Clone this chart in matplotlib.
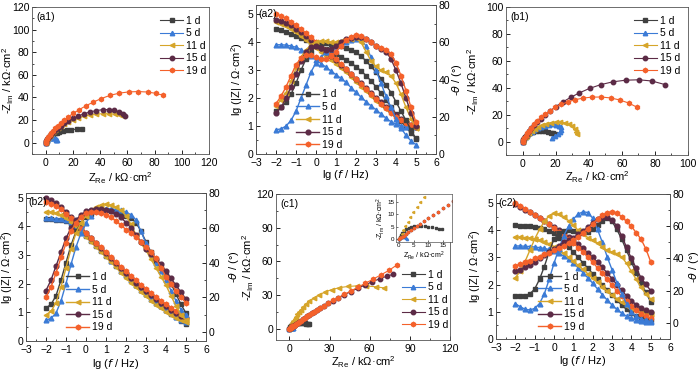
import matplotlib.pyplot as plt
from matplotlib.ticker import MultipleLocator, AutoMinorLocator

plt.rcParams['font.family'] = ['Liberation Sans', 'DejaVu Sans']
plt.rcParams['mathtext.default'] = 'regular'
plt.rcParams['font.size'] = 7.5

days = ['1 d', '5 d', '11 d', '15 d', '19 d']
colors = ['#404040', '#3b7bd6', '#d6a52a', '#5c2b46', '#f4612b']
markers = ['s', '^', '<', 'o', 'h']

# frequency grid of the Bode plots, lg(f / Hz)
lgf = [-2, -1.75, -1.5, -1.25, -1, -0.75, -0.5, -0.25, 0, 0.25, 0.5, 0.75, 1, 1.25,
       1.5, 1.75, 2, 2.25, 2.5, 2.75, 3, 3.25, 3.5, 3.75, 4, 4.25, 4.5, 4.75, 5]

# ---- (a1) Nyquist, kOhm cm2
a1_zre = [
    [0, 0.3, 0.7, 1.2, 1.8, 2.5, 3.3, 4.2, 5.3, 6.6, 8, 10, 12.5, 15.5, 19, 23, 27],
    [0, 0.5, 1.2, 2, 3, 4.2, 5.5, 6.5, 7.3, 7.8, 8],
    [0, 0.5, 1.2, 2, 3, 4.2, 5.6, 7.2, 9, 11.2, 13.8, 16.8, 20.2, 24, 28.2, 32.6, 37.2, 41.8, 46.4, 50.8, 54.4, 57],
    [0, 0.5, 1.2, 2, 3, 4.2, 5.6, 7.2, 9, 11.2, 13.8, 16.8, 20.2, 24, 28.2, 32.6, 37.2, 41.8, 46.2, 50.2, 53.8, 56.6, 58],
    [0, 0.5, 1.2, 2, 3, 4.2, 5.6, 7.2, 9, 11.2, 13.8, 16.8, 20.4, 24.6, 29.4, 34.8, 40.8, 47.2, 54, 61, 68, 75, 81, 86],
]
a1_zim = [
    [0, 0.8, 1.7, 2.7, 3.7, 4.7, 5.6, 6.5, 7.4, 8.2, 8.9, 9.7, 10.4, 11, 11.5, 12, 12.3],
    [0, 0.9, 1.9, 2.9, 3.8, 4.4, 4.5, 4, 3.3, 2.6, 2],
    [0, 1.3, 2.9, 4.5, 6.1, 7.8, 9.5, 11.2, 12.9, 14.7, 16.6, 18.5, 20.3, 22, 23.5, 24.6, 25.3, 25.6, 25.6, 25.2, 24.6, 23.8],
    [0, 1.3, 2.9, 4.5, 6.2, 7.9, 9.7, 11.5, 13.3, 15.2, 17.3, 19.5, 21.6, 23.6, 25.6, 27.2, 28.4, 29.2, 29.3, 28.7, 27.5, 25.8, 23.8],
    [0, 1.4, 3, 4.8, 6.6, 8.6, 10.6, 12.8, 15, 17.5, 20.2, 23, 26, 29.2, 32.5, 35.8, 39, 41.8, 43.8, 44.9, 45.2, 44.8, 43.6, 42],
]

# ---- (b1) Nyquist
b1_zre = [
    [0, 0.3, 0.8, 1.5, 2.4, 3.5, 4.8, 6.3, 8, 9.8, 11.7, 13.6, 15.4, 17, 18.3, 19.4],
    [0, 0.4, 1, 1.8, 2.8, 4, 5.5, 7.2, 9.2, 11.4, 13.8, 16.2, 18.5, 20.5, 22, 23, 23.3, 22.8, 21.5, 19.8, 18],
    [0, 0.4, 1, 1.8, 2.8, 4, 5.5, 7.3, 9.4, 11.8, 14.4, 17.2, 20, 22.8, 25.5, 27.9, 30, 31.6, 32.6, 33.1],
    [0, 0.4, 1, 1.8, 2.8, 4, 5.4, 7, 8.9, 11.1, 13.7, 16.7, 20.2, 24.3, 29, 34.4, 40.5, 47.3, 54.6, 62.3, 70.2, 78.2, 86.2],
    [0, 0.4, 1, 1.8, 2.8, 4, 5.4, 7, 8.9, 11.1, 13.7, 16.6, 19.8, 23.4, 27.4, 31.8, 36.6, 41.8, 47.4, 53.4, 59, 64.4, 69],
]
b1_zim = [
    [0, 1, 2.1, 3.2, 4.3, 5.4, 6.4, 7.2, 7.8, 8.1, 8.1, 7.8, 7.2, 6.6, 6, 5.4],
    [0, 1.1, 2.3, 3.5, 4.8, 6.1, 7.4, 8.6, 9.8, 10.9, 11.8, 12.5, 12.8, 12.6, 11.8, 10.5, 8.8, 7, 5.3, 4, 3],
    [0, 1.1, 2.4, 3.7, 5.1, 6.5, 8, 9.5, 10.9, 12.2, 13.3, 14.1, 14.5, 14.5, 14, 13, 11.4, 9.4, 7.2, 5.3],
    [0, 1.2, 2.6, 4.2, 5.9, 7.8, 9.8, 12, 14.4, 17, 19.8, 22.8, 26, 29.4, 32.8, 36.2, 39.5, 42.3, 44.4, 45.6, 45.9, 45, 42.3],
    [0, 1.2, 2.7, 4.4, 6.2, 8.2, 10.4, 12.8, 15.3, 17.9, 20.5, 23, 25.4, 27.6, 29.5, 31.1, 32.3, 33, 33.1, 32.4, 30.8, 28.5, 25.6],
]

# ---- (c1) Nyquist
c1_zre = [
    [0, 0.3, 0.7, 1.2, 1.8, 2.5, 3.3, 4.2, 5.2, 6.3, 7.5, 8.7, 10, 11.3, 12.5, 13.6, 14.5],
    [0, 0.3, 0.6, 1, 1.4, 1.8, 2.2, 2.5, 2.7],
    [0, 0.4, 0.9, 1.5, 2.2, 3, 3.9, 4.9, 6, 7.2, 8.6, 10.3, 12.4, 15, 18.2, 22, 26.5, 31.6, 37.4, 43.8, 50.6, 57.6, 64.6, 71],
    [0, 0.5, 1, 1.6, 2.3, 3.1, 4, 5, 6.1, 7.3, 8.6, 10, 11.5, 13.1, 14.8, 16.6, 18.5, 20.6, 23, 25.8, 29, 32.6, 36.6, 41, 45.8, 51, 56.4, 62, 67.6, 72.8, 77.2],
    [0, 0.5, 1, 1.6, 2.3, 3.1, 4, 5, 6.1, 7.3, 8.6, 10, 11.5, 13.1, 14.8, 16.6, 18.5, 20.6, 23, 25.8, 29, 32.6, 36.6, 41, 45.8, 51, 56.6, 62.4, 68.4, 74.4, 80.3],
]
c1_zim = [
    [0, 0.8, 1.7, 2.6, 3.4, 4.1, 4.6, 5, 5.2, 5.3, 5.3, 5.2, 5, 4.8, 4.5, 4.3, 4.2],
    [0, 0.5, 0.9, 1.1, 1.2, 1.1, 0.9, 0.6, 0.3],
    [0, 1, 2.2, 3.6, 5.2, 7, 8.9, 10.9, 12.9, 14.9, 17, 19.3, 21.8, 24.5, 27.3, 30.1, 32.7, 34.9, 36.6, 37.7, 38.2, 38.1, 37.4, 36.3],
    [0, 0.45, 0.95, 1.5, 2.1, 2.8, 3.6, 4.4, 5.3, 6.3, 7.3, 8.5, 9.7, 11, 12.3, 13.7, 15.2, 16.8, 18.6, 20.6, 22.8, 25.1, 27.6, 30.3, 33.1, 36, 39, 41.9, 44.6, 46.8, 48.4],
    [0, 0.5, 1, 1.5, 2.1, 2.8, 3.6, 4.4, 5.3, 6.3, 7.3, 8.5, 9.7, 11, 12.3, 13.7, 15.2, 16.8, 18.6, 20.6, 22.8, 25.2, 27.8, 30.6, 33.6, 36.9, 40.4, 44.1, 48, 52, 56.8],
]

# ---- (a2) Bode
a2_lgz = [
    [4.45, 4.41, 4.36, 4.30, 4.23, 4.15, 4.07, 3.99, 3.91, 3.83, 3.75, 3.67, 3.58, 3.48, 3.37, 3.25, 3.12, 2.97, 2.80, 2.61, 2.40, 2.17, 1.93, 1.68, 1.43, 1.18, 0.95, 0.75, 0.57],
    [3.90, 3.90, 3.89, 3.86, 3.81, 3.73, 3.62, 3.49, 3.36, 3.23, 3.10, 2.96, 2.83, 2.70, 2.56, 2.37, 2.20, 2.03, 1.87, 1.72, 1.58, 1.43, 1.28, 1.15, 1.06, 1.01, 0.98, 0.96, 0.95],
    [4.70, 4.64, 4.56, 4.46, 4.34, 4.21, 4.07, 3.93, 3.79, 3.65, 3.51, 3.37, 3.22, 3.07, 2.91, 2.75, 2.58, 2.41, 2.24, 2.07, 1.91, 1.76, 1.62, 1.48, 1.35, 1.22, 1.10, 1.00, 0.92],
    [4.80, 4.75, 4.68, 4.59, 4.48, 4.35, 4.21, 4.07, 3.93, 3.79, 3.65, 3.50, 3.35, 3.19, 3.03, 2.86, 2.69, 2.52, 2.35, 2.18, 2.01, 1.85, 1.69, 1.53, 1.39, 1.25, 1.13, 1.03, 0.96],
    [5.00, 4.93, 4.84, 4.73, 4.60, 4.46, 4.31, 4.16, 4.01, 3.86, 3.71, 3.55, 3.39, 3.22, 3.05, 2.87, 2.69, 2.51, 2.33, 2.15, 1.97, 1.80, 1.63, 1.47, 1.33, 1.20, 1.10, 1.02, 0.97],
]
a2_phase = [
    [23, 25, 28, 32, 38, 45, 51, 55, 58, 59, 59.5, 59, 58.5, 58, 57, 56, 54.5, 52.5, 50, 47, 44, 40.5, 37, 33, 28, 23, 18, 13, 8],
    [13, 13.5, 15, 18, 23, 30, 37, 44, 49, 52, 54.5, 56.5, 58, 59, 60, 61, 62, 61.5, 58, 52, 45, 38, 31, 25, 19, 14, 10, 7, 5],
    [26, 29, 33, 39, 46, 52, 56, 58.5, 60, 60.5, 60.5, 60, 60, 60.5, 61, 62, 62.5, 60, 55, 50, 47, 45, 44, 42, 38, 32, 25, 19, 14],
    [22, 25, 30, 36, 43, 50, 55, 57.5, 58, 57, 56, 56.5, 58, 60, 61.5, 62.5, 63, 63, 62, 60, 58, 56.5, 55, 51, 45, 38, 30, 22, 15],
    [27, 31, 36, 42, 48, 51.5, 53, 53, 52, 51, 51, 52.5, 55, 58, 61, 63, 64, 63.5, 62, 60, 58, 57, 56, 53.5, 49, 42, 34, 25, 17],
]

# ---- (b2) Bode
b2_lgz = [
    [4.25, 4.25, 4.24, 4.22, 4.18, 4.10, 3.98, 3.83, 3.66, 3.49, 3.31, 3.14, 2.97, 2.80, 2.63, 2.46, 2.29, 2.12, 1.96, 1.80, 1.64, 1.49, 1.35, 1.21, 1.08, 0.96, 0.83, 0.70, 0.58],
    [4.28, 4.28, 4.27, 4.26, 4.23, 4.15, 4.02, 3.86, 3.69, 3.52, 3.34, 3.17, 2.99, 2.81, 2.64, 2.46, 2.29, 2.12, 1.95, 1.79, 1.63, 1.48, 1.34, 1.21, 1.09, 0.97, 0.85, 0.75, 0.66],
    [4.52, 4.51, 4.48, 4.41, 4.31, 4.16, 4.00, 3.83, 3.65, 3.47, 3.29, 3.11, 2.93, 2.75, 2.57, 2.39, 2.21, 2.04, 1.87, 1.71, 1.56, 1.41, 1.27, 1.14, 1.02, 0.91, 0.81, 0.72, 0.65],
    [4.98, 4.92, 4.82, 4.68, 4.51, 4.33, 4.15, 3.97, 3.79, 3.61, 3.43, 3.25, 3.07, 2.89, 2.71, 2.54, 2.37, 2.20, 2.04, 1.88, 1.73, 1.59, 1.46, 1.33, 1.21, 1.10, 0.99, 0.89, 0.80],
    [4.85, 4.80, 4.72, 4.60, 4.45, 4.29, 4.12, 3.95, 3.78, 3.61, 3.44, 3.27, 3.10, 2.93, 2.76, 2.60, 2.44, 2.28, 2.12, 1.97, 1.82, 1.68, 1.54, 1.41, 1.28, 1.16, 1.05, 0.94, 0.85],
]
b2_phase = [
    [14, 16, 21, 30, 40, 50, 58, 63, 66, 68, 69.5, 70, 70, 69.5, 69, 68, 67, 65.5, 63, 58, 52, 46, 41, 37, 33, 28, 22, 16, 11],
    [7, 8, 11, 18, 28, 39, 49, 57, 63, 67, 69.5, 70.5, 71, 71, 70.5, 70, 69, 67.5, 64.5, 58, 51, 45, 40, 35, 30, 24, 18, 13, 10],
    [10, 12, 17, 26, 37, 48, 57, 63, 67, 70, 72, 73, 73.5, 73, 72, 70, 67, 62, 56, 51, 47, 42, 37, 32, 27, 21, 15, 10, 7],
    [24, 30, 38, 46, 54, 60, 64.5, 67.5, 69.5, 70.5, 71, 71, 70.5, 69.5, 68, 66, 63, 60, 56, 52, 48, 45, 42, 39, 35, 31, 27, 23, 19],
    [20, 26, 34, 43, 51, 58, 63, 66.5, 68.5, 69, 69, 68.5, 67.5, 66, 64, 61.5, 59, 57, 55, 52, 49, 46, 42.5, 37, 32, 28, 24, 20, 17],
]

# ---- (c2) Bode
c2_lgz = [
    [4.18, 4.17, 4.16, 4.14, 4.12, 4.09, 4.05, 3.98, 3.90, 3.73, 3.55, 3.38, 3.20, 3.00, 2.80, 2.60, 2.40, 2.20, 2.00, 1.81, 1.62, 1.43, 1.25, 1.09, 0.95, 0.85, 0.78, 0.73, 0.70],
    [3.42, 3.42, 3.41, 3.40, 3.38, 3.36, 3.33, 3.29, 3.23, 3.15, 3.05, 2.93, 2.78, 2.62, 2.44, 2.25, 2.05, 1.84, 1.63, 1.43, 1.25, 1.09, 0.95, 0.84, 0.76, 0.70, 0.66, 0.63, 0.62],
    [3.75, 3.74, 3.73, 3.71, 3.68, 3.64, 3.58, 3.50, 3.40, 3.28, 3.15, 3.01, 2.86, 2.71, 2.56, 2.40, 2.24, 2.08, 1.92, 1.77, 1.62, 1.48, 1.35, 1.23, 1.13, 1.05, 0.99, 0.95, 0.93],
    [4.95, 4.86, 4.76, 4.66, 4.56, 4.45, 4.34, 4.23, 4.12, 4.00, 3.88, 3.75, 3.62, 3.48, 3.33, 3.17, 3.00, 2.82, 2.63, 2.43, 2.22, 2.00, 1.79, 1.59, 1.41, 1.26, 1.14, 1.06, 1.01],
    [5.00, 4.90, 4.79, 4.68, 4.57, 4.45, 4.33, 4.21, 4.08, 3.95, 3.81, 3.67, 3.52, 3.36, 3.19, 3.01, 2.82, 2.62, 2.41, 2.20, 1.98, 1.77, 1.57, 1.38, 1.20, 1.05, 0.92, 0.83, 0.77],
]
c2_phase = [
    [16.5, 16.5, 17, 18, 21, 27, 35, 44, 52, 55.5, 57, 57.5, 57, 56.5, 56, 56.5, 58, 61, 63.5, 65, 63, 58, 52, 45, 38, 31, 25, 19, 13],
    [12, 10, 8.5, 8, 9, 12, 18, 27, 37, 46, 54, 60, 64.5, 67.5, 69, 68.5, 65, 58, 50, 41, 33, 25, 18, 12, 7, 4, 2.5, 1.5, 1],
    [28, 32, 38, 45, 52, 58, 63, 66.5, 68, 67.5, 66, 63.5, 60.5, 57.5, 55, 53, 51.5, 49.5, 47, 45, 44, 43, 41, 37, 32, 27, 22, 18, 15],
    [32, 33, 34.5, 36, 38, 40, 42, 44, 46, 48, 50, 51.5, 53, 55, 57, 59.5, 62, 64.5, 66, 66, 64, 60, 54, 47, 40, 34, 28, 24, 20],
    [35.5, 36.5, 37.5, 38.5, 40, 41, 42.5, 43.5, 45, 46.5, 48, 49.5, 51.5, 53.5, 56, 58.5, 61.5, 64.5, 67, 68.5, 69, 68, 66, 63, 60, 56, 52, 46, 38],
]

fig = plt.figure(figsize=(7, 3.69), dpi=100)


def box(l, t, r, b):
    return fig.add_axes([l / 700, 1 - b / 369, (r - l) / 700, (b - t) / 369])


def style(ax):
    ax.tick_params(which='both', direction='in', labelsize=7.5)
    ax.tick_params(axis='x', pad=3)
    ax.tick_params(axis='y', pad=2)
    ax.tick_params(which='major', length=3, width=0.6)
    ax.tick_params(which='minor', length=1.6, width=0.5)
    for s in ax.spines.values():
        s.set_linewidth(0.6)
        s.set_color('#555555')
    ax.xaxis.set_minor_locator(AutoMinorLocator(2))
    ax.yaxis.set_minor_locator(AutoMinorLocator(2))


def nyquist(ax, zre, zim, tag, xlim, ylim, xstep, ystep, leg_loc, leg_anchor, ylab_x, xlab_y):
    for i in range(5):
        ax.plot(zre[i], zim[i], marker=markers[i], color=colors[i], ms=3.2, lw=0.8,
                label=days[i])
    ax.set_xlim(*xlim)
    ax.set_ylim(*ylim)
    ax.xaxis.set_major_locator(MultipleLocator(xstep))
    ax.yaxis.set_major_locator(MultipleLocator(ystep))
    style(ax)
    ax.set_xlabel(r'Z$_{Re}$ / kΩ·cm$^2$', fontsize=8)
    ax.set_ylabel(r'-Z$_{Im}$ / kΩ·cm$^2$', fontsize=8)
    ax.yaxis.set_label_coords(ylab_x, 0.5)
    ax.xaxis.set_label_coords(0.5, xlab_y)
    ax.text(0.025, 0.965, tag, transform=ax.transAxes, va='top', fontsize=7.5)
    ax.legend(loc=leg_loc, bbox_to_anchor=leg_anchor, frameon=False, fontsize=7.5,
              handlelength=2.2, handletextpad=0.3, labelspacing=0.25, borderaxespad=0)


def bode(ax, lgz, phase, tag, zlim, plim, leg_anchor, ylab_x, rlab_x, xlab_y):
    ax2 = ax.twinx()
    for i in range(5):
        ax.plot(lgf, lgz[i], marker=markers[i], color=colors[i], ms=3.4, lw=1.0,
                label=days[i])
        ax2.plot(lgf, phase[i], marker=markers[i], color=colors[i], ms=3.4, lw=1.0)
    ax.set_xlim(-3, 6)
    ax.set_ylim(*zlim)
    ax2.set_ylim(*plim)
    ax.xaxis.set_major_locator(MultipleLocator(1))
    ax.yaxis.set_major_locator(MultipleLocator(1))
    ax2.yaxis.set_major_locator(MultipleLocator(20))
    style(ax)
    style(ax2)
    ax.set_xlabel(r'lg ($\mathit{f}$ / Hz)', fontsize=8)
    ax.set_ylabel(r'lg (|Z| / Ω·cm$^2$)', fontsize=8)
    ax2.set_ylabel(r'-$\mathit{\theta}$ / (°)', fontsize=8, rotation=90, va='top')
    ax.yaxis.set_label_coords(ylab_x, 0.5)
    ax2.yaxis.set_label_coords(rlab_x, 0.5)
    ax.xaxis.set_label_coords(0.5, xlab_y)
    ax.text(0.015, 0.975, tag, transform=ax.transAxes, va='top', fontsize=7.5)
    h, l = ax.get_legend_handles_labels()
    ax2.legend(h, l, loc='lower left', bbox_to_anchor=leg_anchor, frameon=False,
               fontsize=7.5, handlelength=2.2, handletextpad=0.3, labelspacing=0.25,
               borderaxespad=0)


ax_a1 = box(32, 7, 209, 154)
nyquist(ax_a1, a1_zre, a1_zim, '(a1)', (-10, 120), (-10, 120), 20, 20,
        'upper left', (0.7, 0.97), -0.09, -0.11)

ax_a2 = box(256, 5, 436, 154)
bode(ax_a2, a2_lgz, a2_phase, '(a2)', (0, 5.32), (0, 80), (0.2, 0.0), -0.061, 1.078, -0.095)

ax_b1 = box(506, 7, 688, 155)
nyquist(ax_b1, b1_zre, b1_zim, '(b1)', (-10, 100), (-10, 100), 20, 20,
        'upper left', (0.68, 0.97), -0.137, -0.1)

ax_b2 = box(26, 193, 206, 341)
bode(ax_b2, b2_lgz, b2_phase, '(b2)', (0, 5.17), (-5, 80), (0.2, 0.03), -0.061, 1.117, -0.105)

ax_c1 = box(276, 194, 450, 340)
nyquist(ax_c1, c1_zre, c1_zim, '(c1)', (-10, 120), (-10, 120), 30, 30,
        'lower left', (0.7, 0.04), -0.115, -0.1)

ins = box(396, 194, 452, 242)
for i in range(5):
    ins.plot(c1_zre[i], c1_zim[i], marker=markers[i], color=colors[i], ms=1.6, lw=0)
ins.set_xlim(-1, 18)
ins.set_ylim(-1, 18)
ins.xaxis.set_major_locator(MultipleLocator(5))
ins.yaxis.set_major_locator(MultipleLocator(5))
ins.tick_params(direction='in', labelsize=4.5, length=1.5, width=0.4, pad=1)
for s in ins.spines.values():
    s.set_linewidth(0.5)
    s.set_color('#555555')
ins.set_xlabel(r'Z$_{Re}$ / kΩ·cm$^2$', fontsize=5, labelpad=0.5)
ins.set_ylabel(r'-Z$_{Im}$ / kΩ·cm$^2$', fontsize=5, labelpad=0.5)

ax_c2 = box(496, 194, 670, 339)
bode(ax_c2, c2_lgz, c2_phase, '(c2)', (0, 5.33), (-10, 80), (0.22, 0.02), -0.075, 1.1, -0.105)

fig.savefig('out.png', dpi=100)
